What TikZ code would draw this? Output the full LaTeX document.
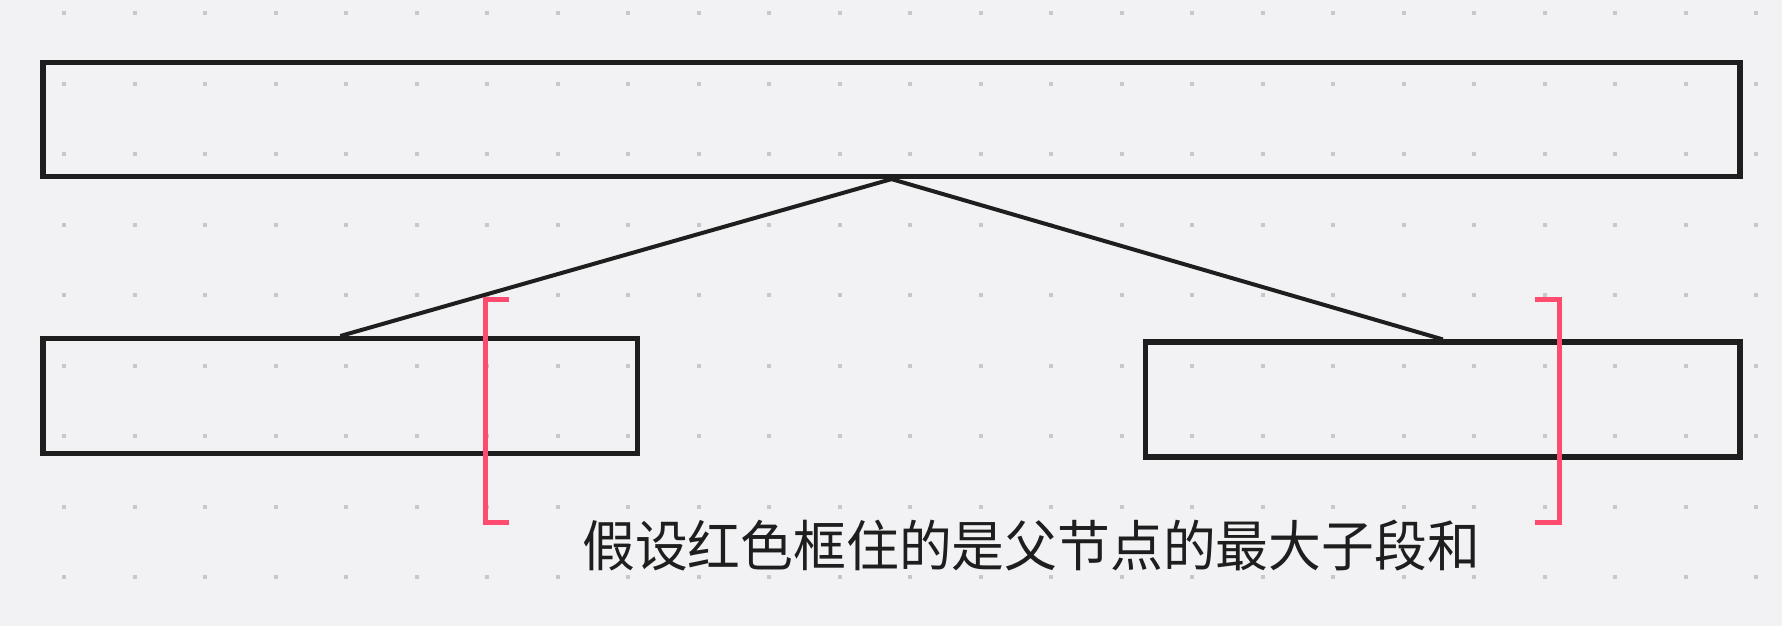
\documentclass[tikz,border=0pt]{standalone}
\usepackage{fontspec}
\usepackage{graphicx}
\newfontfamily\cjk{Noto Sans CJK SC}
\definecolor{bgc}{HTML}{F2F2F4}
\definecolor{dotc}{HTML}{C8C8C8}
\definecolor{inkc}{HTML}{1E1E1E}
\definecolor{redc}{HTML}{FF4B6E}
\begin{document}
\begin{tikzpicture}[x=1pt,y=-1pt,
  box/.style={draw=inkc,line width=5.2pt,inner sep=0pt},
  link/.style={draw=inkc,line width=4pt},
  brk/.style={draw=redc,line width=5pt}]
\fill[bgc] (0,0) rectangle (1782,626);
\useasboundingbox (0,0) rectangle (1782,626);
\foreach \i in {0,...,24}{
  \foreach \j in {0,...,8}{
    \fill[dotc] ({64+70.5*\i-2},{13+70.5*\j-2}) rectangle ++(4,4);
  }
}
\node[box,minimum width=1697pt,minimum height=114pt] (top) at (891.5,119.5) {};
\node[box,minimum width=594.6pt,minimum height=114.8pt] (left) at (340.3,396) {};
\node[box,minimum width=594.4pt,minimum height=115pt] (right) at (1442.8,399.5) {};
\draw[link] (left.north) -- (top.south) -- (right.north);
\draw[brk] (509,299) -- (485,299) -- (485,522.5) -- (509,522.5);
\draw[brk] (1535,299) -- (1559,299) -- (1559,522.5) -- (1535,522.5);
\node[text=inkc,inner sep=0pt] (label) at (1031,545.5) {\scalebox{0.96}[1]{\cjk\fontsize{55}{60}\selectfont 假设红色框住的是父节点的最大子段和}};
\end{tikzpicture}
\end{document}
